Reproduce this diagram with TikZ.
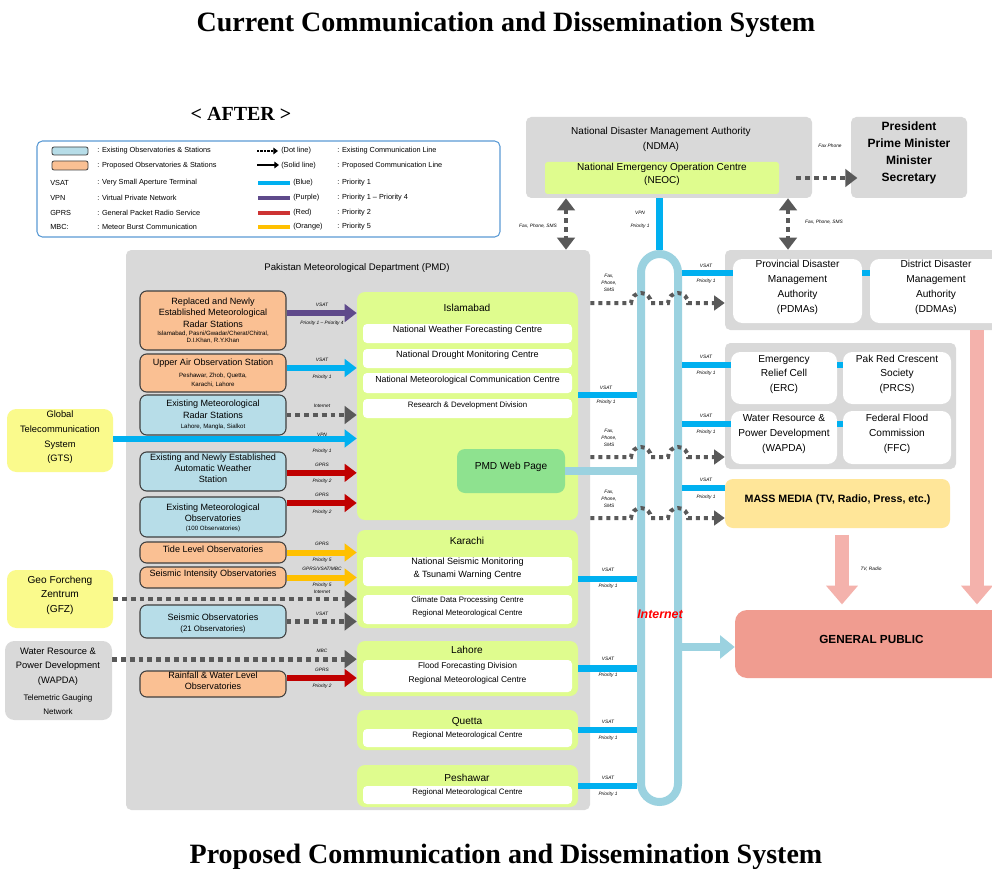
\documentclass[tikz,border=0pt]{standalone}
\usepackage{fontspec}
\setmainfont{Liberation Sans}
\newfontfamily\titlefont{Liberation Serif}
\usetikzlibrary{arrows.meta,fit}
\definecolor{cgray}{HTML}{D9D9D9}
\definecolor{cgreen}{HTML}{DFFC8E}
\definecolor{cweb}{HTML}{8EE28F}
\definecolor{cor}{HTML}{FAC093}
\definecolor{cobs}{HTML}{B7DDE8}
\definecolor{cedge}{HTML}{3F3F3F}
\definecolor{cyel}{HTML}{FAFA8C}
\definecolor{cmedia}{HTML}{FFE699}
\definecolor{cpub}{HTML}{F09C90}
\definecolor{cpink}{HTML}{F4B2AC}
\definecolor{cnet}{HTML}{9BD2E0}
\definecolor{cblue}{HTML}{00B0F0}
\definecolor{cpurple}{HTML}{5F4A8B}
\definecolor{cred}{HTML}{C00000}
\definecolor{corange}{HTML}{FFC000}
\definecolor{cdot}{HTML}{595959}
\definecolor{clegend}{HTML}{5B9BD5}
\definecolor{cinet}{HTML}{FF0000}
\newcommand\mysmall{\fontsize{5.9}{7}\selectfont}
\begin{document}
\begin{tikzpicture}[x=0.75pt,y=-0.75pt,
  every node/.style={inner sep=0pt, font=\fontsize{6.8}{8.5}\selectfont},
  fb/.style={rounded corners=3pt, align=center},
  pane/.style={fb, fill=cgray, rounded corners=4pt},
  obox/.style={fb, fill=cor, draw=cedge, line width=0.8pt, rounded corners=5pt},
  bbox/.style={fb, fill=cobs, draw=cedge, line width=0.8pt, rounded corners=5pt},
  gbox/.style={fb, fill=cgreen, rounded corners=6pt},
  wbox/.style={fb, fill=white, rounded corners=3pt},
  rbox/.style={fb, fill=white, rounded corners=7pt, font=\fontsize{7.6}{11.2}\selectfont},
  ebox/.style={fb, rounded corners=7pt, font=\fontsize{7}{11.2}\selectfont},
  ttl/.style={font=\fontsize{7.6}{9}\selectfont},
  mt/.style={align=center, font=\fontsize{6.8}{8.6}\selectfont},
  st/.style={align=center, font=\fontsize{4.6}{5.3}\selectfont},
  tl/.style={font=\fontsize{3.6}{4.3}\selectfont\itshape, align=center},
  lg/.style={font=\fontsize{5.5}{6.5}\selectfont, anchor=west},
  fat/.style={line width=4.5pt, -{Triangle[width=13pt,length=9pt]}},
  dots/.style={draw=cdot, line width=3.6pt, dash pattern=on 3.6pt off 3pt, -{Triangle[width=13pt,length=9pt]}},
  dd/.style={draw=cdot, line width=3.6pt, dash pattern=on 3.6pt off 3pt, {Triangle[width=13pt,length=9pt]}-{Triangle[width=13pt,length=9pt]}},
  hop/.style={draw=cdot, line width=3pt, dash pattern=on 3pt off 3pt, -{Triangle[width=11pt,length=8pt]}},
  vsat/.style={draw=cblue, line width=5.2pt},
  pinkarr/.style={draw=cpink, line width=10.5pt, -{Triangle[width=23pt,length=14pt]}},
]
\clip (0,0) rectangle (992,870);
\fill[white] (0,0) rectangle (992,870);

% titles
\node[font=\titlefont\fontsize{21}{24}\selectfont\bfseries] (t1) at (506,25) {Current Communication and Dissemination System};
\node[font=\titlefont\fontsize{21}{24}\selectfont\bfseries] (t2) at (506,857) {Proposed Communication and Dissemination System};
\node[font=\titlefont\fontsize{15}{18}\selectfont\bfseries] (after) at (241,114) {< AFTER >};

% legend
\node[draw=clegend, line width=0.8pt, rounded corners=4pt, fit={(37,141) (500,237)}] (legend) {};
\node[fill=cobs, draw=cedge, line width=0.6pt, rounded corners=1.5pt, fit={(52,147) (88,155)}] (sw1) {};
\node[fill=cor, draw=cedge, line width=0.6pt, rounded corners=1.5pt, fit={(52,161) (88,170)}] (sw2) {};
\node[lg] (ab1) at (50,183) {VSAT};
\node[lg] (ab2) at (50,198) {VPN};
\node[lg] (ab3) at (50,213) {GPRS};
\node[lg] (ab4) at (50,227) {MBC:};
\node[lg] (d1) at (97,151) {: Existing Observatories \& Stations};
\node[lg] (d2) at (97,166) {: Proposed Observatories \& Stations};
\node[lg] (d3) at (97,183) {: Very Small Aperture Terminal};
\node[lg] (d4) at (97,198) {: Virtual Private Network};
\node[lg] (d5) at (97,213) {: General Packet Radio Service};
\node[lg] (d6) at (97,227) {: Meteor Burst Communication};
\coordinate (la1) at (257,151); \coordinate (lb1) at (278,151);
\coordinate (la2) at (257,165); \coordinate (lb2) at (279,165);
\draw[draw=black, line width=1.6pt, dash pattern=on 1.6pt off 1pt, -{Triangle[width=5pt,length=3.5pt]}] (la1) -- (lb1);
\draw[draw=black, line width=1.6pt, -{Triangle[width=5pt,length=3.5pt]}] (la2) -- (lb2);
\coordinate (la3) at (258,183); \coordinate (lb3) at (290,183);
\coordinate (la4) at (258,198); \coordinate (lb4) at (290,198);
\coordinate (la5) at (258,213); \coordinate (lb5) at (290,213);
\coordinate (la6) at (258,227); \coordinate (lb6) at (290,227);
\draw[draw=cblue, line width=3.6pt] (la3) -- (lb3);
\draw[draw=cpurple, line width=3.6pt] (la4) -- (lb4);
\draw[draw=cred!80!white, line width=3.6pt] (la5) -- (lb5);
\draw[draw=corange, line width=3.6pt] (la6) -- (lb6);
\node[lg] (e1) at (281,151) {(Dot line)};
\node[lg] (e2) at (281,166) {(Solid line)};
\node[lg] (e3) at (293,183) {(Blue)};
\node[lg] (e4) at (293,198) {(Purple)};
\node[lg] (e5) at (293,213) {(Red)};
\node[lg] (e6) at (293,227) {(Orange)};
\node[lg] (f1) at (337,151) {: Existing Communication Line};
\node[lg] (f2) at (337,166) {: Proposed Communication Line};
\node[lg] (f3) at (337,183) {: Priority 1};
\node[lg] (f4) at (337,198) {: Priority 1 -- Priority 4};
\node[lg] (f5) at (337,213) {: Priority 2};
\node[lg] (f6) at (337,227) {: Priority 5};

% NDMA and President
\node[pane, fit={(526,117) (812,198)}] (ndma) {};
\node[font=\fontsize{7.5}{11.2}\selectfont, align=center] (ndmat) at (661,139) {National Disaster Management Authority\\(NDMA)};
\node[fb, fill=cgreen, rounded corners=2pt, font=\fontsize{7.5}{9.8}\selectfont, fit={(545,162) (779,194)}] (neoc) {National Emergency Operation Centre\\(NEOC)};
\node[pane, font=\fontsize{9}{12.8}\selectfont\bfseries, fit={(851,117) (967,198)}] (pres) {President\\Prime Minister\\Minister\\Secretary};
\draw[dots] (ndma.east |- neoc.east) ++(-12pt,0) coordinate (pa) -- ([xshift=5pt]pres.west |- pa);
\node[tl] (lpres) at (830,146) {Fax Phone};

% PMD
\node[pane, fit={(126,250) (590,810)}] (pmd) {};
\node[font=\fontsize{7.2}{9}\selectfont] (pmdt) at (357,268) {Pakistan Meteorological Department (PMD)};

% Islamabad
\node[gbox, fit={(357,292) (578,520)}] (isl) {};
\node[ttl] (islt) at (467,308) {Islamabad};
\node[wbox, fit={(363,324) (572,343)}] (nwfc) {National Weather Forecasting Centre};
\node[wbox, fit={(363,349) (572,368)}] (ndmc) {National Drought Monitoring Centre};
\node[wbox, fit={(363,373) (572,393)}, font=\fontsize{6.6}{8}\selectfont] (nmcc) {National Meteorological Communication Centre};
\node[wbox, fit={(363,399) (572,418)}, font=\mysmall] (rdd) {Research \& Development Division};
\node[fb, fill=cweb, rounded corners=6pt, font=\fontsize{7.6}{9}\selectfont, fit={(457,449) (565,493)}] (web) {PMD Web Page};

% Karachi
\node[gbox, fit={(357,530) (578,628)}] (kar) {};
\node[ttl] (kart) at (467,541) {Karachi};
\node[wbox, fit={(363,557) (572,586)}, font=\fontsize{6.8}{9.7}\selectfont] (nsm) {National Seismic Monitoring\\\& Tsunami Warning Centre};
\node[wbox, fit={(363,595) (572,624)}, font=\fontsize{5.9}{9.7}\selectfont] (cdp) {Climate Data Processing Centre\\Regional Meteorological Centre};
% Lahore
\node[gbox, fit={(357,641) (578,696)}] (lah) {};
\node[ttl] (laht) at (467,650) {Lahore};
\node[wbox, fit={(363,660) (572,692)}, font=\fontsize{6.3}{10.5}\selectfont] (ffd) {Flood Forecasting Division\\Regional Meteorological Centre};
% Quetta
\node[gbox, fit={(357,710) (578,750)}] (que) {};
\node[ttl] (quet) at (467,722) {Quetta};
\node[wbox, fit={(363,729) (572,747)}, font=\mysmall] (querm) {Regional Meteorological Centre};
% Peshawar
\node[gbox, fit={(357,765) (578,807)}] (pes) {};
\node[ttl] (pest) at (467,778) {Peshawar};
\node[wbox, fit={(363,786) (572,804)}, font=\mysmall] (pesrm) {Regional Meteorological Centre};

% left boxes
\node[obox, fit={(140,291) (286,350)}] (rep) {};
\node[mt] (rept) at (213,312.5) {Replaced and Newly\\Established Meteorological\\Radar Stations};
\node[st] (reps) at (213,337.5) {Islamabad, Pasni/Gwadar/Cherat/Chitral,\\D.I.Khan, R.Y.Khan};
\node[obox, fit={(140,354) (286,392)}] (upper) {};
\node[mt] (uppert) at (213,363) {Upper Air Observation Station};
\node[st, font=\fontsize{4.6}{6.6}\selectfont] (uppers) at (213,380.5) {Peshawar, Zhob, Quetta,\\Karachi, Lahore};
\node[bbox, fit={(140,395) (286,435)}] (exrad) {};
\node[mt, font=\fontsize{6.8}{9}\selectfont] (exradt) at (213,409) {Existing Meteorological\\Radar Stations};
\node[st] (exrads) at (213,426.5) {Lahore, Mangla, Sialkot};
\node[bbox, fit={(140,452) (286,491)}] (aws) {Existing and Newly Established\\Automatic Weather\\Station};
\node[bbox, fit={(140,497) (286,537)}] (obs) {};
\node[mt] (obst) at (213,512.5) {Existing Meteorological\\Observatories};
\node[st] (obss) at (213,528.5) {(100 Observatories)};
\node[obox, fit={(140,542) (286,563)}] (tide) {Tide Level Observatories};
\node[obox, fit={(140,567) (286,588)}] (sint) {Seismic Intensity Observatories};
\node[bbox, fit={(140,605) (286,638)}] (sobs) {};
\node[mt] (sobst) at (213,617) {Seismic Observatories};
\node[mt, font=\fontsize{5.9}{7}\selectfont] (sobss) at (213,629) {(21 Observatories)};
\node[obox, fit={(140,671) (286,697)}] (rain) {Rainfall \& Water Level\\Observatories};

% external boxes
\node[ebox, fill=cyel, fit={(7,409) (113,472)}] (gts) {Global\\Telecommunication\\System\\(GTS)};
\node[ebox, fill=cyel, fit={(7,570) (113,628)}, font=\fontsize{7.6}{11.2}\selectfont] (gfz) {Geo Forcheng\\Zentrum\\(GFZ)};
\node[ebox, fill=cgray, fit={(5,641) (112,720)}] (wapdax) {};
\node[align=center, font=\fontsize{7}{11}\selectfont] (wapdaxt) at (58,666.5) {Water Resource \&\\Power Development\\(WAPDA)};
\node[align=center, font=\fontsize{6}{11}\selectfont] (wapdaxs) at (58,704.5) {Telemetric Gauging\\Network};

% left arrows
\draw[fat, draw=cpurple] ([yshift=5.6pt]rep.east) coordinate (a1) -- (a1 -| isl.west);
\node[tl] at (322,305) {VSAT}; \node[tl] at (322,323) {Priority 1 -- Priority 4};
\draw[fat, draw=cblue] ([yshift=3.75pt]upper.east) coordinate (a2) -- (a2 -| isl.west);
\node[tl] at (322,360) {VSAT}; \node[tl] at (322,377) {Priority 1};
\draw[dots] (exrad.east) -- (exrad.east -| isl.west);
\node[tl] at (322,406) {Internet};
\draw[fat, draw=cblue] ([yshift=1.5pt]gts.east) coordinate (a3) -- (a3 -| isl.west);
\node[tl] at (322,435) {VPN}; \node[tl] at (322,451) {Priority 1};
\draw[fat, draw=cred] ([yshift=-1pt]aws.east) coordinate (a4) -- (a4 -| isl.west);
\node[tl] at (322,465) {GPRS}; \node[tl] at (322,481) {Priority 2};
\draw[fat, draw=cred] ([yshift=10.5pt]obs.east) coordinate (a5) -- (a5 -| isl.west);
\node[tl] at (322,495) {GPRS}; \node[tl] at (322,512) {Priority 2};
\draw[fat, draw=corange] (tide.east) -- (tide.east -| kar.west);
\node[tl] at (322,544) {GPRS}; \node[tl] at (322,560) {Priority 5};
\draw[fat, draw=corange] (sint.east) -- (sint.east -| kar.west);
\node[tl] at (322,569) {GPRS/VSAT/MBC}; \node[tl] at (322,585) {Priority 5};
\draw[dots] (gfz.east) -- (gfz.east -| kar.west);
\node[tl] at (322,592) {Internet};
\draw[dots] (sobs.east) -- (sobs.east -| kar.west);
\node[tl] at (322,614) {VSAT};
\draw[dots] ([yshift=16pt]wapdax.east) coordinate (a6) -- (a6 -| lah.west);
\node[tl] at (322,651) {MBC};
\draw[fat, draw=cred] ([yshift=4.5pt]rain.east) coordinate (a7) -- (a7 -| lah.west);
\node[tl] at (322,670) {GPRS}; \node[tl] at (322,686) {Priority 2};

% right side boxes
\node[pane, fit={(725,250) (1000,330)}] (prov) {};
\node[rbox, fit={(733,259) (862,323)}] (pdma) {Provincial Disaster\\Management\\Authority\\(PDMAs)};
\node[rbox, fit={(870,259) (1002,323)}] (ddma) {District Disaster\\Management\\Authority\\(DDMAs)};
\node[pane, fit={(725,343) (956,469)}] (agen) {};
\node[rbox, fit={(731,352) (837,404)}] (erc) {Emergency\\Relief Cell\\(ERC)};
\node[rbox, fit={(843,352) (951,404)}] (prcs) {Pak Red Crescent\\Society\\(PRCS)};
\node[rbox, fit={(731,411) (837,464)}] (wapda) {Water Resource \&\\Power Development\\(WAPDA)};
\node[rbox, fit={(843,411) (951,464)}] (ffc) {Federal Flood\\Commission\\(FFC)};
\node[fb, fill=cmedia, rounded corners=6pt, font=\fontsize{8}{9}\selectfont\bfseries, fit={(725,479) (950,528)}] (media) {MASS MEDIA (TV, Radio, Press, etc.)};
\node[fb, fill=cpub, rounded corners=9pt, font=\fontsize{8.8}{10}\selectfont\bfseries, fit={(735,610) (1008,678)}] (public) {GENERAL PUBLIC};

% internet loop
\node[draw=cnet, line width=6pt, rounded corners=13.9pt, fit={(641,254) (678,802)}] (inet) {};
\node[font=\fontsize{9.3}{11}\selectfont\bfseries\itshape, text=cinet] (inett) at (660,614) {Internet};

% y levels
\coordinate (y273) at (0,273);
\coordinate (y303) at (0,303);
\coordinate (y365) at (0,365);
\coordinate (y395) at (0,395);
\coordinate (y424) at (0,424);
\coordinate (y457) at (0,457);
\coordinate (y488) at (0,488);
\coordinate (y518) at (0,518);
\coordinate (y647) at (0,647);

% blue connectors PMD -> internet
\draw[vsat] (isl.east |- y395) -- (inet.west |- y395);
\node[tl] at (606,388) {VSAT}; \node[tl] at (606,402) {Priority 1};
\draw[vsat] (kar.east) -- (inet.west |- kar.east);
\node[tl] at (608,570) {VSAT}; \node[tl] at (608,586) {Priority 1};
\draw[vsat] (lah.east) -- (inet.west |- lah.east);
\node[tl] at (608,659) {VSAT}; \node[tl] at (608,675) {Priority 1};
\draw[vsat] (que.east) -- (inet.west |- que.east);
\node[tl] at (608,722) {VSAT}; \node[tl] at (608,738) {Priority 1};
\draw[vsat] (pes.east) -- (inet.west |- pes.east);
\node[tl] at (608,778) {VSAT}; \node[tl] at (608,794) {Priority 1};
\draw[draw=cnet, line width=5.5pt] (web.east) -- (inet.west |- web.east);

% NEOC -> internet
\draw[vsat] (inet.north) -- (inet.north |- ndma.south);
\node[tl] at (640,213) {VPN}; \node[tl] at (640,226) {Priority 1};

% internet -> right
\draw[vsat] (inet.east |- y273) -- (pdma.west |- y273);
\draw[vsat] (pdma.east |- y273) -- (ddma.west |- y273);
\node[tl] at (706,266) {VSAT}; \node[tl] at (706,281) {Priority 1};
\draw[vsat] (inet.east |- y365) -- (erc.west |- y365);
\draw[vsat] (erc.east |- y365) -- (prcs.west |- y365);
\node[tl] at (706,357) {VSAT}; \node[tl] at (706,373) {Priority 1};
\draw[vsat] (inet.east |- y424) -- (wapda.west |- y424);
\draw[vsat] (wapda.east |- y424) -- (ffc.west |- y424);
\node[tl] at (706,416) {VSAT}; \node[tl] at (706,432) {Priority 1};
\draw[vsat] (inet.east |- y488) -- (media.west |- y488);
\node[tl] at (706,480) {VSAT}; \node[tl] at (706,497) {Priority 1};
\draw[draw=cnet, line width=6pt, -{Triangle[width=17pt,length=11pt]}] (inet.east |- y647) -- (public.west |- y647);

% hop dotted lines
\draw[hop] (pmd.east |- y303) -- (631,303) arc (180:360:10) -- (668,303) arc (180:360:10) -- (prov.west |- y303);
\node[tl] at (609,283) {Fax,\\[1pt]Phone,\\[1pt]SMS};
\draw[hop] (pmd.east |- y457) -- (631,457) arc (180:360:10) -- (668,457) arc (180:360:10) -- (agen.west |- y457);
\node[tl] at (609,438) {Fax,\\[1pt]Phone,\\[1pt]SMS};
\draw[hop] (pmd.east |- y518) -- (631,518) arc (180:360:10) -- (668,518) arc (180:360:10) -- (media.west |- y518);
\node[tl] at (609,499) {Fax,\\[1pt]Phone,\\[1pt]SMS};

% NDMA double arrows
\coordinate (x566) at (566,0);
\coordinate (x788) at (788,0);
\draw[dd] (ndma.south -| x566) -- (pmd.north -| x566);
\node[tl] at (538,226) {Fax, Phone, SMS};
\draw[dd] (ndma.south -| x788) -- (prov.north -| x788);
\node[tl] at (824,222) {Fax, Phone, SMS};

% pink arrows to public
\coordinate (x842) at (842,0);
\coordinate (x977) at (977,0);
\draw[pinkarr] ([yshift=-5pt]media.south -| x842) -- ([yshift=4pt]public.north -| x842);
\node[tl] at (871,569) {TV, Radio};
\draw[pinkarr] (prov.south -| x977) -- ([yshift=4pt]public.north -| x977);
\end{tikzpicture}
\end{document}
